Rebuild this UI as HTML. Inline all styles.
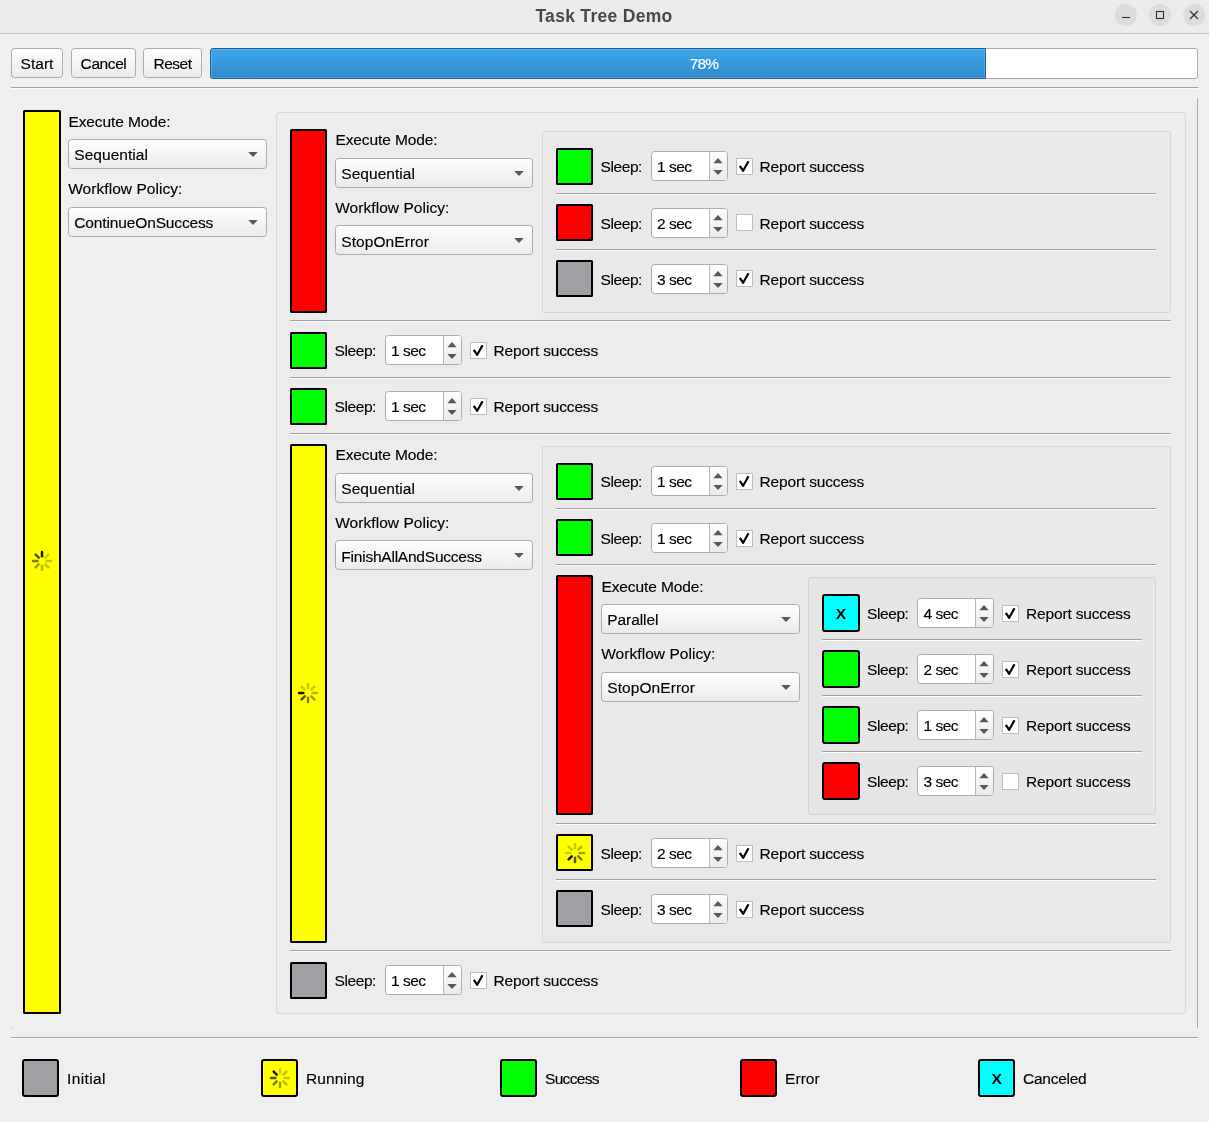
<!DOCTYPE html>
<html><head><meta charset="utf-8"><title>Task Tree Demo</title>
<style>
html,body{margin:0;padding:0;}
body{width:1209px;height:1122px;background:#efefef;position:relative;overflow:hidden;font-family:"Liberation Sans", sans-serif;font-size:15.5px;color:#000;}
body div, body svg{position:absolute;box-sizing:border-box;}
.t{line-height:20px;height:20px;white-space:nowrap;-webkit-text-stroke:0.15px;}
#tb{left:0;top:0;width:1209px;height:34px;background:#ebebeb;border-bottom:1px solid #c2c2c2;}
.title{left:404px;width:400px;top:4px;height:24px;line-height:24px;text-align:center;font-weight:bold;font-size:17.5px;color:#484848;letter-spacing:0.3px;white-space:nowrap;}
.wb{width:22px;height:22px;border-radius:11px;background:#dcdcdc;}
.btn{border:1px solid #adadad;border-radius:3.5px;background:linear-gradient(#fdfdfd,#ebebeb);}
.pg{border:1px solid #acacac;border-radius:3px;background:#fff;}
.pgf{left:-1px;top:-1px;height:30.5px;border:1px solid #1d6192;border-radius:3px 0 0 3px;background:linear-gradient(#3ea6eb,#318bcb);box-shadow:inset 0 0 0 1px rgba(255,255,255,.16);}
.hl{height:2px;border-top:1px solid #a2a2a2;border-bottom:1px solid #fbfbfb;}
.st{border:2px solid #000;border-radius:2px;}
.fr{border:1px solid rgba(0,0,0,.085);border-radius:3px;background:rgba(0,0,0,.012);}
.sp{border:1px solid #adadad;border-radius:3.5px;background:#fff;overflow:hidden;}
.spb{left:57px;top:-1px;width:19px;height:30px;border-left:1px solid #b8b8b8;background:linear-gradient(#fdfdfd,#ebebeb);}
.cb{width:17.3px;height:17.3px;border:1px solid #bdbdbd;border-radius:0.5px;background:#fff;}
</style></head>
<body>
<div id="tb"></div>
<div class="title">Task Tree Demo</div>
<div class="wb" style="left:1115px;top:4px"></div>
<div class="wb" style="left:1149px;top:4px"></div>
<div class="wb" style="left:1183px;top:4px"></div>
<svg class="a" style="left:1110px;top:0" width="99" height="33" viewBox="1110 0 99 33" fill="none" stroke="#2e2e2e" stroke-width="1.1"><path d="M1122 17.5 H1130"/><rect x="1156.5" y="11.5" width="7" height="7"/><path d="M1190 11 L1198 19 M1198 11 L1190 19"/></svg>
<div class="btn" style="left:11px;top:48px;width:52px;height:30px"></div>
<div class="t" style="left:-63.0px;width:200px;text-align:center;top:53.75px;letter-spacing:0.011px;">Start</div>
<div class="btn" style="left:71px;top:48px;width:65px;height:30px"></div>
<div class="t" style="left:3.5px;width:200px;text-align:center;top:53.75px;letter-spacing:-0.408px;">Cancel</div>
<div class="btn" style="left:143px;top:48px;width:59px;height:30px"></div>
<div class="t" style="left:72.5px;width:200px;text-align:center;top:53.75px;letter-spacing:-0.508px;">Reset</div>
<div class="pg" style="left:210px;top:48px;width:988px;height:30.5px"><div class="pgf" style="width:776px"></div></div>
<div class="t" style="left:604px;width:200px;text-align:center;top:53.75px;letter-spacing:-0.764px;color:#fff;">78%</div>
<div class="hl" style="left:11px;top:87px;width:1187px"></div>
<div style="left:1197px;top:98px;width:1px;height:930px;background:#a9a9a9"></div>
<div style="left:11px;top:1027px;width:1px;height:1px;background:#b8b8b8"></div>
<div class="st" style="left:23px;top:110px;width:38px;height:903.6px;background:#ffff00;border-radius:1.5px;border-width:2.9px"></div>
<svg class="a" style="left:29.700000000000003px;top:549.4px" width="24" height="24" viewBox="-12 -12 24 24" stroke-width="2.5" stroke-linecap="round"><line x1="0.00" y1="-4.65" x2="0.00" y2="-9.00" stroke="rgba(0,0,0,0.92)"/><line x1="-3.29" y1="-3.29" x2="-6.36" y2="-6.36" stroke="rgba(0,0,0,0.68)"/><line x1="-4.65" y1="-0.00" x2="-9.00" y2="-0.00" stroke="rgba(0,0,0,0.52)"/><line x1="-3.29" y1="3.29" x2="-6.36" y2="6.36" stroke="rgba(0,0,0,0.38)"/><line x1="-0.00" y1="4.65" x2="-0.00" y2="9.00" stroke="rgba(0,0,0,0.28)"/><line x1="3.29" y1="3.29" x2="6.36" y2="6.36" stroke="rgba(0,0,0,0.22)"/><line x1="4.65" y1="0.00" x2="9.00" y2="0.00" stroke="rgba(0,0,0,0.22)"/><line x1="3.29" y1="-3.29" x2="6.36" y2="-6.36" stroke="rgba(0,0,0,0.19)"/></svg>
<div class="t" style="left:68.4px;top:111.75px;letter-spacing:-0.094px;">Execute Mode:</div>
<div class="btn" style="left:68px;top:139px;width:199px;height:29.5px"></div>
<div class="t" style="left:74.3px;top:144.75px;letter-spacing:0.033px;">Sequential</div>
<svg class="a" style="left:246.7px;top:149.5px" width="12" height="10" viewBox="-6 -2 12 10"><path d="M-4.8 0 L4.8 0 L0 5 Z" fill="#585858"/></svg>
<div class="t" style="left:68.2px;top:178.75px;letter-spacing:0.055px;">Workflow Policy:</div>
<div class="btn" style="left:68px;top:207px;width:199px;height:29.5px"></div>
<div class="t" style="left:74.3px;top:212.75px;letter-spacing:-0.139px;">ContinueOnSuccess</div>
<svg class="a" style="left:246.7px;top:217.5px" width="12" height="10" viewBox="-6 -2 12 10"><path d="M-4.8 0 L4.8 0 L0 5 Z" fill="#585858"/></svg>
<div class="fr" style="left:276px;top:112px;width:910px;height:902px"></div>
<div class="st" style="left:290px;top:129px;width:37px;height:183.6px;background:#ff0000;border-radius:1.5px;border-width:2px"></div>
<div class="t" style="left:335.4px;top:129.75px;letter-spacing:-0.094px;">Execute Mode:</div>
<div class="btn" style="left:335px;top:158px;width:198px;height:29.5px"></div>
<div class="t" style="left:341.3px;top:163.75px;letter-spacing:0.033px;">Sequential</div>
<svg class="a" style="left:512.7px;top:168.5px" width="12" height="10" viewBox="-6 -2 12 10"><path d="M-4.8 0 L4.8 0 L0 5 Z" fill="#585858"/></svg>
<div class="t" style="left:335.2px;top:197.75px;letter-spacing:0.055px;">Workflow Policy:</div>
<div class="btn" style="left:335px;top:225px;width:198px;height:29.5px"></div>
<div class="t" style="left:341.3px;top:231.75px;letter-spacing:0.066px;">StopOnError</div>
<svg class="a" style="left:512.7px;top:235.5px" width="12" height="10" viewBox="-6 -2 12 10"><path d="M-4.8 0 L4.8 0 L0 5 Z" fill="#585858"/></svg>
<div class="fr" style="left:542px;top:131px;width:629px;height:182px"></div>
<div class="st" style="left:556px;top:148px;width:37px;height:37px;background:#00ff00;border-radius:1.5px;border-width:2px"></div>
<div class="t" style="left:600.6px;top:156.75px;letter-spacing:-0.429px;">Sleep:</div>
<div class="sp" style="left:651.2px;top:151.3px;width:77px;height:30px"><div class="spb"></div></div>
<div class="t" style="left:657.1px;top:156.75px;letter-spacing:-0.527px;">1 sec</div>
<svg class="a" style="left:711.7px;top:151.3px" width="12" height="30" viewBox="-6 0 12 30"><path d="M-4.7 12.2 L0 7 L4.7 12.2 Z M-4.7 18.9 L0 24 L4.7 18.9 Z" fill="#585858"/></svg>
<div class="cb" style="left:735.8px;top:157.7px"></div>
<svg class="a" style="left:735.8px;top:157.7px" width="17" height="17" viewBox="0 0 17 17"><path d="M3.8 7.8 L7.2 12.8 L12.5 3.3" fill="none" stroke="#000" stroke-width="2.2" stroke-linejoin="round" stroke-linecap="butt"/></svg>
<div class="t" style="left:759.6px;top:156.75px;letter-spacing:-0.174px;">Report success</div>
<div class="hl" style="left:556px;top:193px;width:600px"></div>
<div class="st" style="left:556px;top:204px;width:37px;height:37px;background:#ff0000;border-radius:1.5px;border-width:2px"></div>
<div class="t" style="left:600.6px;top:213.75px;letter-spacing:-0.429px;">Sleep:</div>
<div class="sp" style="left:651.2px;top:208.3px;width:77px;height:30px"><div class="spb"></div></div>
<div class="t" style="left:657.1px;top:213.75px;letter-spacing:-0.527px;">2 sec</div>
<svg class="a" style="left:711.7px;top:208.3px" width="12" height="30" viewBox="-6 0 12 30"><path d="M-4.7 12.2 L0 7 L4.7 12.2 Z M-4.7 18.9 L0 24 L4.7 18.9 Z" fill="#585858"/></svg>
<div class="cb" style="left:735.8px;top:214.1px"></div>
<div class="t" style="left:759.6px;top:213.75px;letter-spacing:-0.174px;">Report success</div>
<div class="hl" style="left:556px;top:249px;width:600px"></div>
<div class="st" style="left:556px;top:260px;width:37px;height:37px;background:#a0a0a4;border-radius:1.5px;border-width:2px"></div>
<div class="t" style="left:600.6px;top:269.75px;letter-spacing:-0.429px;">Sleep:</div>
<div class="sp" style="left:651.2px;top:264.3px;width:77px;height:30px"><div class="spb"></div></div>
<div class="t" style="left:657.1px;top:269.75px;letter-spacing:-0.527px;">3 sec</div>
<svg class="a" style="left:711.7px;top:264.3px" width="12" height="30" viewBox="-6 0 12 30"><path d="M-4.7 12.2 L0 7 L4.7 12.2 Z M-4.7 18.9 L0 24 L4.7 18.9 Z" fill="#585858"/></svg>
<div class="cb" style="left:735.8px;top:270.09999999999997px"></div>
<svg class="a" style="left:735.8px;top:270.09999999999997px" width="17" height="17" viewBox="0 0 17 17"><path d="M3.8 7.8 L7.2 12.8 L12.5 3.3" fill="none" stroke="#000" stroke-width="2.2" stroke-linejoin="round" stroke-linecap="butt"/></svg>
<div class="t" style="left:759.6px;top:269.75px;letter-spacing:-0.174px;">Report success</div>
<div class="hl" style="left:290px;top:320px;width:881px"></div>
<div class="st" style="left:290px;top:332px;width:37px;height:37px;background:#00ff00;border-radius:1.5px;border-width:2px"></div>
<div class="t" style="left:334.6px;top:340.75px;letter-spacing:-0.429px;">Sleep:</div>
<div class="sp" style="left:385.2px;top:335.3px;width:77px;height:30px"><div class="spb"></div></div>
<div class="t" style="left:391.09999999999997px;top:340.75px;letter-spacing:-0.527px;">1 sec</div>
<svg class="a" style="left:445.7px;top:335.3px" width="12" height="30" viewBox="-6 0 12 30"><path d="M-4.7 12.2 L0 7 L4.7 12.2 Z M-4.7 18.9 L0 24 L4.7 18.9 Z" fill="#585858"/></svg>
<div class="cb" style="left:469.8px;top:341.7px"></div>
<svg class="a" style="left:469.8px;top:341.7px" width="17" height="17" viewBox="0 0 17 17"><path d="M3.8 7.8 L7.2 12.8 L12.5 3.3" fill="none" stroke="#000" stroke-width="2.2" stroke-linejoin="round" stroke-linecap="butt"/></svg>
<div class="t" style="left:493.6px;top:340.75px;letter-spacing:-0.174px;">Report success</div>
<div class="hl" style="left:290px;top:377px;width:881px"></div>
<div class="st" style="left:290px;top:388px;width:37px;height:37px;background:#00ff00;border-radius:1.5px;border-width:2px"></div>
<div class="t" style="left:334.6px;top:396.75px;letter-spacing:-0.429px;">Sleep:</div>
<div class="sp" style="left:385.2px;top:391.3px;width:77px;height:30px"><div class="spb"></div></div>
<div class="t" style="left:391.09999999999997px;top:396.75px;letter-spacing:-0.527px;">1 sec</div>
<svg class="a" style="left:445.7px;top:391.3px" width="12" height="30" viewBox="-6 0 12 30"><path d="M-4.7 12.2 L0 7 L4.7 12.2 Z M-4.7 18.9 L0 24 L4.7 18.9 Z" fill="#585858"/></svg>
<div class="cb" style="left:469.8px;top:397.7px"></div>
<svg class="a" style="left:469.8px;top:397.7px" width="17" height="17" viewBox="0 0 17 17"><path d="M3.8 7.8 L7.2 12.8 L12.5 3.3" fill="none" stroke="#000" stroke-width="2.2" stroke-linejoin="round" stroke-linecap="butt"/></svg>
<div class="t" style="left:493.6px;top:396.75px;letter-spacing:-0.174px;">Report success</div>
<div class="hl" style="left:290px;top:433px;width:881px"></div>
<div class="st" style="left:290px;top:444px;width:37px;height:498.5px;background:#ffff00;border-radius:1.5px;border-width:2px"></div>
<svg class="a" style="left:296.2px;top:680.85px" width="24" height="24" viewBox="-12 -12 24 24" stroke-width="2.5" stroke-linecap="round"><line x1="-4.65" y1="0.00" x2="-9.00" y2="0.00" stroke="rgba(0,0,0,0.92)"/><line x1="-3.29" y1="3.29" x2="-6.36" y2="6.36" stroke="rgba(0,0,0,0.68)"/><line x1="0.00" y1="4.65" x2="0.00" y2="9.00" stroke="rgba(0,0,0,0.52)"/><line x1="3.29" y1="3.29" x2="6.36" y2="6.36" stroke="rgba(0,0,0,0.38)"/><line x1="4.65" y1="0.00" x2="9.00" y2="0.00" stroke="rgba(0,0,0,0.28)"/><line x1="3.29" y1="-3.29" x2="6.36" y2="-6.36" stroke="rgba(0,0,0,0.22)"/><line x1="0.00" y1="-4.65" x2="0.00" y2="-9.00" stroke="rgba(0,0,0,0.22)"/><line x1="-3.29" y1="-3.29" x2="-6.36" y2="-6.36" stroke="rgba(0,0,0,0.19)"/></svg>
<div class="t" style="left:335.4px;top:444.75px;letter-spacing:-0.094px;">Execute Mode:</div>
<div class="btn" style="left:335px;top:473px;width:198px;height:29.5px"></div>
<div class="t" style="left:341.3px;top:478.75px;letter-spacing:0.033px;">Sequential</div>
<svg class="a" style="left:512.7px;top:483.5px" width="12" height="10" viewBox="-6 -2 12 10"><path d="M-4.8 0 L4.8 0 L0 5 Z" fill="#585858"/></svg>
<div class="t" style="left:335.2px;top:512.75px;letter-spacing:0.055px;">Workflow Policy:</div>
<div class="btn" style="left:335px;top:540px;width:198px;height:29.5px"></div>
<div class="t" style="left:341.3px;top:546.75px;letter-spacing:-0.223px;">FinishAllAndSuccess</div>
<svg class="a" style="left:512.7px;top:550.5px" width="12" height="10" viewBox="-6 -2 12 10"><path d="M-4.8 0 L4.8 0 L0 5 Z" fill="#585858"/></svg>
<div class="fr" style="left:542px;top:446px;width:629px;height:497px"></div>
<div class="st" style="left:556px;top:463px;width:37px;height:37px;background:#00ff00;border-radius:1.5px;border-width:2px"></div>
<div class="t" style="left:600.6px;top:471.75px;letter-spacing:-0.429px;">Sleep:</div>
<div class="sp" style="left:651.2px;top:466.3px;width:77px;height:30px"><div class="spb"></div></div>
<div class="t" style="left:657.1px;top:471.75px;letter-spacing:-0.527px;">1 sec</div>
<svg class="a" style="left:711.7px;top:466.3px" width="12" height="30" viewBox="-6 0 12 30"><path d="M-4.7 12.2 L0 7 L4.7 12.2 Z M-4.7 18.9 L0 24 L4.7 18.9 Z" fill="#585858"/></svg>
<div class="cb" style="left:735.8px;top:472.7px"></div>
<svg class="a" style="left:735.8px;top:472.7px" width="17" height="17" viewBox="0 0 17 17"><path d="M3.8 7.8 L7.2 12.8 L12.5 3.3" fill="none" stroke="#000" stroke-width="2.2" stroke-linejoin="round" stroke-linecap="butt"/></svg>
<div class="t" style="left:759.6px;top:471.75px;letter-spacing:-0.174px;">Report success</div>
<div class="hl" style="left:556px;top:508px;width:600px"></div>
<div class="st" style="left:556px;top:519px;width:37px;height:37px;background:#00ff00;border-radius:1.5px;border-width:2px"></div>
<div class="t" style="left:600.6px;top:528.75px;letter-spacing:-0.429px;">Sleep:</div>
<div class="sp" style="left:651.2px;top:523.3px;width:77px;height:30px"><div class="spb"></div></div>
<div class="t" style="left:657.1px;top:528.75px;letter-spacing:-0.527px;">1 sec</div>
<svg class="a" style="left:711.7px;top:523.3px" width="12" height="30" viewBox="-6 0 12 30"><path d="M-4.7 12.2 L0 7 L4.7 12.2 Z M-4.7 18.9 L0 24 L4.7 18.9 Z" fill="#585858"/></svg>
<div class="cb" style="left:735.8px;top:529.7px"></div>
<svg class="a" style="left:735.8px;top:529.7px" width="17" height="17" viewBox="0 0 17 17"><path d="M3.8 7.8 L7.2 12.8 L12.5 3.3" fill="none" stroke="#000" stroke-width="2.2" stroke-linejoin="round" stroke-linecap="butt"/></svg>
<div class="t" style="left:759.6px;top:528.75px;letter-spacing:-0.174px;">Report success</div>
<div class="hl" style="left:556px;top:564px;width:600px"></div>
<div class="st" style="left:556px;top:575px;width:37px;height:240px;background:#ff0000;border-radius:1.5px;border-width:2px"></div>
<div class="t" style="left:601.4px;top:576.75px;letter-spacing:-0.094px;">Execute Mode:</div>
<div class="btn" style="left:601px;top:604px;width:199px;height:29.5px"></div>
<div class="t" style="left:607.3px;top:609.75px;letter-spacing:-0.091px;">Parallel</div>
<svg class="a" style="left:779.7px;top:614.5px" width="12" height="10" viewBox="-6 -2 12 10"><path d="M-4.8 0 L4.8 0 L0 5 Z" fill="#585858"/></svg>
<div class="t" style="left:601.2px;top:643.75px;letter-spacing:0.055px;">Workflow Policy:</div>
<div class="btn" style="left:601px;top:672px;width:199px;height:29.5px"></div>
<div class="t" style="left:607.3px;top:677.75px;letter-spacing:0.066px;">StopOnError</div>
<svg class="a" style="left:779.7px;top:682.5px" width="12" height="10" viewBox="-6 -2 12 10"><path d="M-4.8 0 L4.8 0 L0 5 Z" fill="#585858"/></svg>
<div class="fr" style="left:808px;top:577px;width:348px;height:238px"></div>
<div class="st" style="left:822px;top:594px;width:37.7px;height:37.5px;background:#00ffff;border-radius:3px;border-width:2.4px"></div>
<div class="t" style="left:822px;width:37.7px;text-align:center;top:603.75px;font-weight:bold;font-size:15.5px;-webkit-text-stroke:0">X</div>
<div class="t" style="left:867.1px;top:603.75px;letter-spacing:-0.429px;">Sleep:</div>
<div class="sp" style="left:917.2px;top:598.3px;width:77px;height:30px"><div class="spb"></div></div>
<div class="t" style="left:923.6px;top:603.75px;letter-spacing:-0.527px;">4 sec</div>
<svg class="a" style="left:977.7px;top:598.3px" width="12" height="30" viewBox="-6 0 12 30"><path d="M-4.7 12.2 L0 7 L4.7 12.2 Z M-4.7 18.9 L0 24 L4.7 18.9 Z" fill="#585858"/></svg>
<div class="cb" style="left:1001.8px;top:604.7px"></div>
<svg class="a" style="left:1001.8px;top:604.7px" width="17" height="17" viewBox="0 0 17 17"><path d="M3.8 7.8 L7.2 12.8 L12.5 3.3" fill="none" stroke="#000" stroke-width="2.2" stroke-linejoin="round" stroke-linecap="butt"/></svg>
<div class="t" style="left:1026.1px;top:603.75px;letter-spacing:-0.174px;">Report success</div>
<div class="hl" style="left:822px;top:639px;width:320px"></div>
<div class="st" style="left:822px;top:650px;width:37.7px;height:37.5px;background:#00ff00;border-radius:3px;border-width:2.4px"></div>
<div class="t" style="left:867.1px;top:659.75px;letter-spacing:-0.429px;">Sleep:</div>
<div class="sp" style="left:917.2px;top:654.3px;width:77px;height:30px"><div class="spb"></div></div>
<div class="t" style="left:923.6px;top:659.75px;letter-spacing:-0.527px;">2 sec</div>
<svg class="a" style="left:977.7px;top:654.3px" width="12" height="30" viewBox="-6 0 12 30"><path d="M-4.7 12.2 L0 7 L4.7 12.2 Z M-4.7 18.9 L0 24 L4.7 18.9 Z" fill="#585858"/></svg>
<div class="cb" style="left:1001.8px;top:660.7px"></div>
<svg class="a" style="left:1001.8px;top:660.7px" width="17" height="17" viewBox="0 0 17 17"><path d="M3.8 7.8 L7.2 12.8 L12.5 3.3" fill="none" stroke="#000" stroke-width="2.2" stroke-linejoin="round" stroke-linecap="butt"/></svg>
<div class="t" style="left:1026.1px;top:659.75px;letter-spacing:-0.174px;">Report success</div>
<div class="hl" style="left:822px;top:695px;width:320px"></div>
<div class="st" style="left:822px;top:706px;width:37.7px;height:37.5px;background:#00ff00;border-radius:3px;border-width:2.4px"></div>
<div class="t" style="left:867.1px;top:715.75px;letter-spacing:-0.429px;">Sleep:</div>
<div class="sp" style="left:917.2px;top:710.3px;width:77px;height:30px"><div class="spb"></div></div>
<div class="t" style="left:923.6px;top:715.75px;letter-spacing:-0.527px;">1 sec</div>
<svg class="a" style="left:977.7px;top:710.3px" width="12" height="30" viewBox="-6 0 12 30"><path d="M-4.7 12.2 L0 7 L4.7 12.2 Z M-4.7 18.9 L0 24 L4.7 18.9 Z" fill="#585858"/></svg>
<div class="cb" style="left:1001.8px;top:716.7px"></div>
<svg class="a" style="left:1001.8px;top:716.7px" width="17" height="17" viewBox="0 0 17 17"><path d="M3.8 7.8 L7.2 12.8 L12.5 3.3" fill="none" stroke="#000" stroke-width="2.2" stroke-linejoin="round" stroke-linecap="butt"/></svg>
<div class="t" style="left:1026.1px;top:715.75px;letter-spacing:-0.174px;">Report success</div>
<div class="hl" style="left:822px;top:751px;width:320px"></div>
<div class="st" style="left:822px;top:762px;width:37.7px;height:37.5px;background:#ff0000;border-radius:3px;border-width:2.4px"></div>
<div class="t" style="left:867.1px;top:771.75px;letter-spacing:-0.429px;">Sleep:</div>
<div class="sp" style="left:917.2px;top:766.3px;width:77px;height:30px"><div class="spb"></div></div>
<div class="t" style="left:923.6px;top:771.75px;letter-spacing:-0.527px;">3 sec</div>
<svg class="a" style="left:977.7px;top:766.3px" width="12" height="30" viewBox="-6 0 12 30"><path d="M-4.7 12.2 L0 7 L4.7 12.2 Z M-4.7 18.9 L0 24 L4.7 18.9 Z" fill="#585858"/></svg>
<div class="cb" style="left:1001.8px;top:772.7px"></div>
<div class="t" style="left:1026.1px;top:771.75px;letter-spacing:-0.174px;">Report success</div>
<div class="hl" style="left:556px;top:823px;width:600px"></div>
<div class="st" style="left:556px;top:834px;width:37px;height:37.4px;background:#ffff00;border-radius:1.5px;border-width:2px"></div>
<svg class="a" style="left:562.5px;top:840.8000000000001px" width="24" height="24" viewBox="-12 -12 24 24" stroke-width="2.5" stroke-linecap="round"><line x1="-3.29" y1="3.29" x2="-6.36" y2="6.36" stroke="rgba(0,0,0,0.92)"/><line x1="0.00" y1="4.65" x2="0.00" y2="9.00" stroke="rgba(0,0,0,0.68)"/><line x1="3.29" y1="3.29" x2="6.36" y2="6.36" stroke="rgba(0,0,0,0.52)"/><line x1="4.65" y1="0.00" x2="9.00" y2="0.00" stroke="rgba(0,0,0,0.38)"/><line x1="3.29" y1="-3.29" x2="6.36" y2="-6.36" stroke="rgba(0,0,0,0.28)"/><line x1="0.00" y1="-4.65" x2="0.00" y2="-9.00" stroke="rgba(0,0,0,0.22)"/><line x1="-3.29" y1="-3.29" x2="-6.36" y2="-6.36" stroke="rgba(0,0,0,0.22)"/><line x1="-4.65" y1="-0.00" x2="-9.00" y2="-0.00" stroke="rgba(0,0,0,0.19)"/></svg>
<div class="t" style="left:600.6px;top:843.75px;letter-spacing:-0.429px;">Sleep:</div>
<div class="sp" style="left:651.2px;top:838.3px;width:77px;height:30px"><div class="spb"></div></div>
<div class="t" style="left:657.1px;top:843.75px;letter-spacing:-0.527px;">2 sec</div>
<svg class="a" style="left:711.7px;top:838.3px" width="12" height="30" viewBox="-6 0 12 30"><path d="M-4.7 12.2 L0 7 L4.7 12.2 Z M-4.7 18.9 L0 24 L4.7 18.9 Z" fill="#585858"/></svg>
<div class="cb" style="left:735.8px;top:844.7px"></div>
<svg class="a" style="left:735.8px;top:844.7px" width="17" height="17" viewBox="0 0 17 17"><path d="M3.8 7.8 L7.2 12.8 L12.5 3.3" fill="none" stroke="#000" stroke-width="2.2" stroke-linejoin="round" stroke-linecap="butt"/></svg>
<div class="t" style="left:759.6px;top:843.75px;letter-spacing:-0.174px;">Report success</div>
<div class="hl" style="left:556px;top:879px;width:600px"></div>
<div class="st" style="left:556px;top:890px;width:37px;height:37px;background:#a0a0a4;border-radius:1.5px;border-width:2px"></div>
<div class="t" style="left:600.6px;top:899.75px;letter-spacing:-0.429px;">Sleep:</div>
<div class="sp" style="left:651.2px;top:894.3px;width:77px;height:30px"><div class="spb"></div></div>
<div class="t" style="left:657.1px;top:899.75px;letter-spacing:-0.527px;">3 sec</div>
<svg class="a" style="left:711.7px;top:894.3px" width="12" height="30" viewBox="-6 0 12 30"><path d="M-4.7 12.2 L0 7 L4.7 12.2 Z M-4.7 18.9 L0 24 L4.7 18.9 Z" fill="#585858"/></svg>
<div class="cb" style="left:735.8px;top:900.7px"></div>
<svg class="a" style="left:735.8px;top:900.7px" width="17" height="17" viewBox="0 0 17 17"><path d="M3.8 7.8 L7.2 12.8 L12.5 3.3" fill="none" stroke="#000" stroke-width="2.2" stroke-linejoin="round" stroke-linecap="butt"/></svg>
<div class="t" style="left:759.6px;top:899.75px;letter-spacing:-0.174px;">Report success</div>
<div class="hl" style="left:290px;top:950px;width:881px"></div>
<div class="st" style="left:290px;top:962px;width:37px;height:37px;background:#a0a0a4;border-radius:1.5px;border-width:2px"></div>
<div class="t" style="left:334.6px;top:970.75px;letter-spacing:-0.429px;">Sleep:</div>
<div class="sp" style="left:385.2px;top:965.3px;width:77px;height:30px"><div class="spb"></div></div>
<div class="t" style="left:391.09999999999997px;top:970.75px;letter-spacing:-0.527px;">1 sec</div>
<svg class="a" style="left:445.7px;top:965.3px" width="12" height="30" viewBox="-6 0 12 30"><path d="M-4.7 12.2 L0 7 L4.7 12.2 Z M-4.7 18.9 L0 24 L4.7 18.9 Z" fill="#585858"/></svg>
<div class="cb" style="left:469.8px;top:971.7px"></div>
<svg class="a" style="left:469.8px;top:971.7px" width="17" height="17" viewBox="0 0 17 17"><path d="M3.8 7.8 L7.2 12.8 L12.5 3.3" fill="none" stroke="#000" stroke-width="2.2" stroke-linejoin="round" stroke-linecap="butt"/></svg>
<div class="t" style="left:493.6px;top:970.75px;letter-spacing:-0.174px;">Report success</div>
<div class="hl" style="left:11px;top:1037px;width:1187px"></div>
<div class="st" style="left:22px;top:1059px;width:37.4px;height:37.6px;background:#a0a0a4;border-radius:3px;border-width:2.4px"></div>
<div class="t" style="left:67px;top:1068.75px;letter-spacing:0.387px;">Initial</div>
<div class="st" style="left:261px;top:1059px;width:37.4px;height:37.6px;background:#ffff00;border-radius:3px;border-width:2.4px"></div>
<svg class="a" style="left:267.7px;top:1065.8999999999999px" width="24" height="24" viewBox="-12 -12 24 24" stroke-width="2.5" stroke-linecap="round"><line x1="-3.29" y1="-3.29" x2="-6.36" y2="-6.36" stroke="rgba(0,0,0,0.92)"/><line x1="-4.65" y1="-0.00" x2="-9.00" y2="-0.00" stroke="rgba(0,0,0,0.68)"/><line x1="-3.29" y1="3.29" x2="-6.36" y2="6.36" stroke="rgba(0,0,0,0.52)"/><line x1="-0.00" y1="4.65" x2="-0.00" y2="9.00" stroke="rgba(0,0,0,0.38)"/><line x1="3.29" y1="3.29" x2="6.36" y2="6.36" stroke="rgba(0,0,0,0.28)"/><line x1="4.65" y1="0.00" x2="9.00" y2="0.00" stroke="rgba(0,0,0,0.22)"/><line x1="3.29" y1="-3.29" x2="6.36" y2="-6.36" stroke="rgba(0,0,0,0.22)"/><line x1="0.00" y1="-4.65" x2="0.00" y2="-9.00" stroke="rgba(0,0,0,0.19)"/></svg>
<div class="t" style="left:306px;top:1068.75px;letter-spacing:0.124px;">Running</div>
<div class="st" style="left:500px;top:1059px;width:37.4px;height:37.6px;background:#00ff00;border-radius:3px;border-width:2.4px"></div>
<div class="t" style="left:545px;top:1068.75px;letter-spacing:-0.678px;">Success</div>
<div class="st" style="left:740px;top:1059px;width:37.4px;height:37.6px;background:#ff0000;border-radius:3px;border-width:2.4px"></div>
<div class="t" style="left:785px;top:1068.75px;letter-spacing:0.07px;">Error</div>
<div class="st" style="left:978px;top:1059px;width:37.4px;height:37.6px;background:#00ffff;border-radius:3px;border-width:2.4px"></div>
<div class="t" style="left:978px;width:37.4px;text-align:center;top:1068.75px;font-weight:bold;font-size:15.5px;-webkit-text-stroke:0">X</div>
<div class="t" style="left:1023px;top:1068.75px;letter-spacing:-0.251px;">Canceled</div>
</body></html>
